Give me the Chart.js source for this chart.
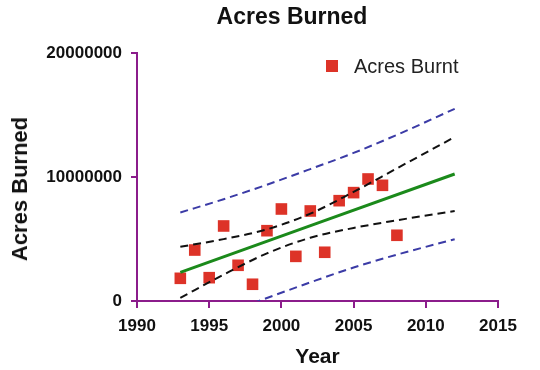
<!DOCTYPE html>
<html>
<head>
<meta charset="utf-8">
<script src="https://cdn.jsdelivr.net/npm/chart.js@4"></script>
<style>
  html, body { margin: 0; padding: 0; background: #fff; }
  #wrap { position: relative; width: 540px; height: 370px; font-family: "Liberation Sans", Arial, sans-serif; }
  #title { position: absolute; left: 192px; width: 200px; top: 1px; text-align: center; font-weight: bold; font-size: 23px; color: #111; line-height: 30px; }
  #ytitle { position: absolute; left: 20px; top: 189px; transform: translate(-50%, -50%) rotate(-90deg); white-space: nowrap; font-weight: bold; font-size: 22px; color: #111; line-height: 26px; }
  #legend { position: absolute; left: 326px; top: 54px; height: 24px; display: flex; align-items: center; font-size: 20px; color: #222; }
  #legend .sw { width: 12px; height: 12px; background: #dd3328; margin-right: 16px; }
  canvas { position: absolute; left: 0; top: 0; }
</style>
</head>
<body>
<div id="wrap">
  <canvas id="c" width="540" height="370"></canvas>
  <div id="title">Acres Burned</div>
  <div id="ytitle">Acres Burned</div>
  <div id="legend"><span class="sw"></span><span>Acres Burnt</span></div>
</div>
<script>
const years = [1993, 1994, 1995, 1996, 1997, 1998, 1999, 2000, 2001, 2002, 2003, 2004, 2005, 2006, 2007, 2008];
const acresBurnt = [1830000, 4110000, 1880000, 6050000, 2880000, 1350000, 5670000, 7420000, 3600000, 7260000, 3930000, 8090000, 8740000, 9840000, 9330000, 5300000];

const fitYears = [1993, 2012];
const fitValues = [2310000, 10240000];

const bandYears = [1993, 1996, 1999, 2002, 2005, 2008, 2012];
const confUpper = [4370000, 4990000, 5780000, 7040000, 8800000, 10700000, 13220000];
const confLower = [250000, 2130000, 3840000, 5100000, 5890000, 6510000, 7260000];
const predUpper = [7140000, 8210000, 9380000, 10640000, 11940000, 13400000, 15500000];
const predLower = [-2520000, -1090000, 240000, 1500000, 2700000, 3740000, 4980000];

const xTicks = [1990, 1995, 2000, 2005, 2010, 2015];
const yTicks = [0, 10000000, 20000000];

const pts = (xs, ys) => xs.map((x, i) => ({ x: x, y: ys[i] }));
const purple = '#8b1c8b';
const FONT = '"Liberation Sans", Arial, sans-serif';

const lineDs = (label, xs, ys, color, width, dash, tension) => ({
  type: 'line', label, data: pts(xs, ys), borderColor: color, borderWidth: width,
  borderDash: dash, pointRadius: 0, fill: false, tension: tension,
  cubicInterpolationMode: 'monotone', order: 0
});

new Chart(document.getElementById('c'), {
  type: 'scatter',
  data: {
    datasets: [
      { type: 'scatter', label: 'Acres Burnt', data: pts(years, acresBurnt), pointStyle: 'rect',
        pointRadius: 8.2, pointHoverRadius: 8.2, backgroundColor: '#dd3328', borderColor: '#dd3328', borderWidth: 0, order: 1 },
      lineDs('Fit', fitYears, fitValues, '#1b8a1b', 3, [], 0),
      lineDs('Conf upper', bandYears, confUpper, '#111111', 2, [8, 5], 0.4),
      lineDs('Conf lower', bandYears, confLower, '#111111', 2, [8, 5], 0.4),
      lineDs('Pred upper', bandYears, predUpper, '#3b3ba6', 2, [8, 5], 0.4),
      lineDs('Pred lower', bandYears, predLower, '#3b3ba6', 2, [8, 5], 0.4)
    ]
  },
  options: {
    responsive: false,
    animation: false,
    layout: { padding: { left: 0, right: 42, top: 53, bottom: 0 } },
    plugins: { legend: { display: false }, title: { display: false }, tooltip: { enabled: false } },
    scales: {
      x: {
        type: 'linear', min: 1990, max: 2015,
        afterBuildTicks: s => { s.ticks = xTicks.map(v => ({ value: v })); },
        afterFit: s => { s.height = 69; },
        ticks: { color: '#111', font: { family: FONT, size: 17, weight: 'bold' }, padding: 8, callback: v => String(v), maxRotation: 0 },
        grid: { display: true, drawOnChartArea: false, drawTicks: true, tickLength: 7, color: purple, lineWidth: 2 },
        border: { display: true, color: purple, width: 2 },
        title: { display: true, text: 'Year', color: '#111', font: { family: FONT, size: 21, weight: 'bold' }, padding: { top: 4, bottom: 0 } }
      },
      y: {
        type: 'linear', min: 0, max: 20000000,
        afterBuildTicks: s => { s.ticks = yTicks.map(v => ({ value: v })); },
        afterFit: s => { s.width = 137; },
        ticks: { color: '#111', font: { family: FONT, size: 17, weight: 'bold' }, padding: 9, callback: v => String(v) },
        grid: { display: true, drawOnChartArea: false, drawTicks: true, tickLength: 6, color: purple, lineWidth: 2 },
        border: { display: true, color: purple, width: 2 },
        title: { display: false }
      }
    }
  }
});
</script>
</body>
</html>
